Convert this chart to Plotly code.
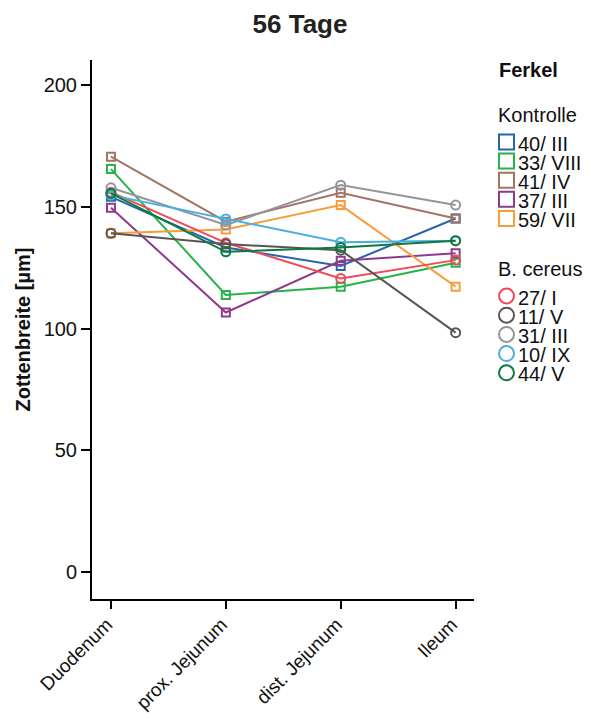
import plotly.graph_objects as go

categories = ["Duodenum", "prox. Jejunum", "dist. Jejunum", "Ileum"]

kontrolle_names = ["40/ III", "33/ VIII", "41/ IV", "37/ III", "59/ VII"]
kontrolle_values = [
    [154.1, 133.3, 125.7, 145.2],
    [165.5, 113.8, 117.2, 127.0],
    [170.6, 143.9, 155.8, 145.2],
    [149.6, 106.6, 127.8, 130.9],
    [139.1, 140.7, 150.7, 117.2],
]
kontrolle_colors = ["#2565b0", "#27b24a", "#a07565", "#8e3a8c", "#f99d3a"]

cereus_names = ["27/ I", "11/ V", "31/ III", "10/ IX", "44/ V"]
cereus_values = [
    [156.0, 135.2, 120.6, 128.1],
    [139.1, 134.7, 132.2, 98.3],
    [157.8, 142.5, 158.9, 150.7],
    [154.8, 145.0, 135.4, 136.1],
    [155.5, 131.5, 133.3, 136.1],
]
cereus_colors = ["#ef4a56", "#5b5455", "#939598", "#4aaee2", "#0c7a3f"]

# page body adds an 8px offset; size the figure so it fills the window
OFF = 8
W, H = 593 - OFF, 719 - OFF
ML, MT = 92 - OFF, 60 - OFF
MR = W - (474 - OFF)
MB = H - (599 - OFF)
PW, PH = W - ML - MR, H - MT - MB

def px_x(px):
    return (px - OFF - ML) / PW

def px_y(py):
    return (H - MB - (py - OFF)) / PH

fig = go.Figure()

for n, v, c in zip(kontrolle_names, kontrolle_values, kontrolle_colors):
    fig.add_trace(go.Scatter(
        x=categories, y=v, mode="lines+markers", name=n,
        line=dict(color=c, width=2),
        marker=dict(symbol="square-open", size=8, color=c, line=dict(width=2, color=c)),
        showlegend=False,
    ))
for n, v, c in zip(cereus_names, cereus_values, cereus_colors):
    fig.add_trace(go.Scatter(
        x=categories, y=v, mode="lines+markers", name=n,
        line=dict(color=c, width=2),
        marker=dict(symbol="circle-open", size=9, color=c, line=dict(width=2, color=c)),
        showlegend=False,
    ))

font_family = "Liberation Sans, Arial, sans-serif"
annotations = []
shapes = []

def legend_text(text, px, py, size=20, bold=False, h=None):
    a = dict(
        text=f"<b>{text}</b>" if bold else text,
        xref="paper", yref="paper", x=px_x(px), y=px_y(py),
        xanchor="left", yanchor="middle", showarrow=False, borderpad=0,
        font=dict(size=size, family=font_family, color="#111111"),
    )
    if h is not None:
        a["height"] = h
    annotations.append(a)

legend_text("Ferkel", 498, 70.5, size=20, bold=True)
legend_text("Kontrolle", 497, 115, size=20)
for i, (n, c) in enumerate(zip(kontrolle_names, kontrolle_colors)):
    cy = 142 + i * 19.1
    shapes.append(dict(type="rect", xref="paper", yref="paper",
                       x0=px_x(499), x1=px_x(514), y0=px_y(cy + 7.5), y1=px_y(cy - 7.5),
                       line=dict(color=c, width=2), fillcolor="rgba(0,0,0,0)"))
    legend_text(n, 517, cy + 1.5, size=20, h=18)
legend_text("B. cereus", 497, 268.5, size=20)
for i, (n, c) in enumerate(zip(cereus_names, cereus_colors)):
    cy = 296 + i * 19.2
    shapes.append(dict(type="circle", xref="paper", yref="paper",
                       x0=px_x(499), x1=px_x(514), y0=px_y(cy + 7.5), y1=px_y(cy - 7.5),
                       line=dict(color=c, width=2), fillcolor="rgba(0,0,0,0)"))
    legend_text(n, 517, cy + 1.5, size=20, h=18)

fig.update_layout(
    width=W, height=H,
    margin=dict(l=ML, r=MR, t=MT, b=MB, autoexpand=False),
    paper_bgcolor="white", plot_bgcolor="white",
    font=dict(family=font_family, color="#111111", size=20),
    showlegend=False,
    title=dict(text="<b>56 Tage</b>", x=(300 - OFF) / W, xanchor="center",
               y=1 - (24 - OFF) / H, yanchor="middle",
               font=dict(size=26, family=font_family, color="#222222")),
    annotations=annotations,
    shapes=shapes,
    xaxis=dict(
        type="category", range=[-0.165, 3.16], automargin=False,
        showline=True, linecolor="black", linewidth=2,
        ticks="outside", ticklen=8, tickwidth=2, tickcolor="black",
        tickangle=-45, tickfont=dict(size=19, color="#111111"), showgrid=False, zeroline=False,
        ticklabelshift=-4, ticklabelstandoff=-3,
    ),
    yaxis=dict(
        range=[-11.1, 210.3], automargin=False,
        tickvals=[0, 50, 100, 150, 200],
        showline=True, linecolor="black", linewidth=2,
        ticks="outside", ticklen=9, tickwidth=2, tickcolor="black",
        tickfont=dict(size=20, color="#111111"), showgrid=False, zeroline=False,
        title=dict(text="<b>Zottenbreite [µm]</b>", font=dict(size=20, color="#111111"), standoff=8),
    ),
)

fig.write_html("out.html")
